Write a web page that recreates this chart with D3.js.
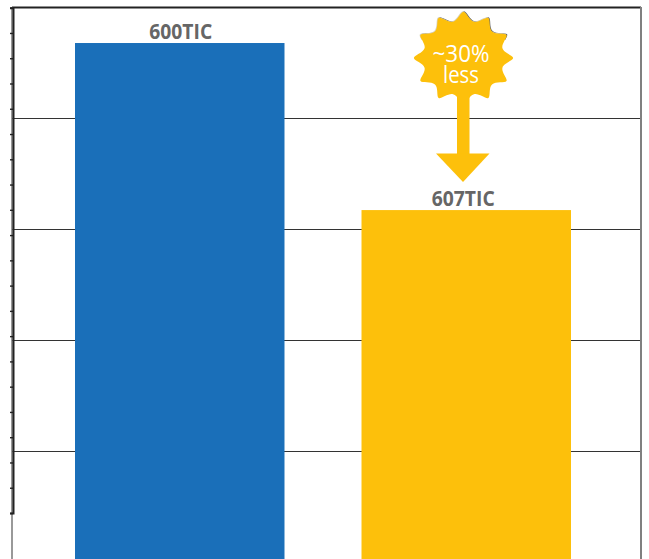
<!DOCTYPE html>
<html>
<head>
<meta charset="utf-8">
<script src="https://cdn.jsdelivr.net/npm/d3@7/dist/d3.min.js"></script>
<style>
	html, body { margin: 0; padding: 0; background: #fff; overflow: hidden; }
	svg { display: block; }
	.barlabel { font-family: "Open Sans", sans-serif; font-weight: bold; font-size: 21px; fill: #666; text-anchor: middle; }
	.badgetext { font-family: "Open Sans", sans-serif; fill: #fff; text-anchor: middle; }
</style>
</head>
<body>
<svg id="chart" width="649" height="559"></svg>
<script>
var categories = ['600TIC', '607TIC'];
var bar_values = [4.68, 3.175];
var bar_colors = ['#1a6fb9', '#fdc00b'];
var grid_values = [1, 2, 3, 4, 5];
var minor_ticks = d3.range(0, 21);
var badge_lines = ['~30%', 'less'];

var svg_elem = d3.select('#chart');

var x_scale = d3.scaleBand().domain(categories).range([75, 571]).paddingInner(0.2688);
var y_scale = d3.scaleLinear().domain([0, 5]).range([562.5, 7.5]);
var minor_scale = d3.scaleLinear().domain([0, 20]).range([513, 7.7]);

// gridlines
svg_elem.selectAll('.grid').data(grid_values).enter().append('line').attr('class', 'grid')
	.attr('x1', 12).attr('x2', 641)
	.attr('y1', d => y_scale(d)).attr('y2', d => y_scale(d))
	.attr('stroke', d => d == 5 ? '#222' : '#333').attr('stroke-width', d => d == 5 ? 1.8 : 1);

// frame, thin part of the left side runs off the bottom
svg_elem.append('line').attr('x1', 641).attr('x2', 641).attr('y1', 7).attr('y2', 559).attr('stroke', '#808080').attr('stroke-width', 2);
svg_elem.append('line').attr('x1', 12).attr('x2', 12).attr('y1', 7).attr('y2', 559).attr('stroke', '#777').attr('stroke-width', 1.5);

var left_axis = d3.axisLeft(minor_scale).tickValues(minor_ticks).tickSize(3).tickFormat('');
var axis_g = svg_elem.append('g').attr('transform', 'translate(13,0)').call(left_axis);
axis_g.select('.domain').attr('stroke', '#222').attr('stroke-width', 2);
axis_g.selectAll('.tick line').attr('stroke', '#222').attr('stroke-width', 1.4);

// bars
svg_elem.selectAll('.bar').data(categories).enter().append('rect').attr('class', 'bar')
	.attr('x', d => x_scale(d)).attr('width', x_scale.bandwidth())
	.attr('y', (d, i) => y_scale(bar_values[i]))
	.attr('height', (d, i) => y_scale(0) - y_scale(bar_values[i]))
	.attr('fill', (d, i) => bar_colors[i]);

svg_elem.selectAll('.barlabel').data(categories).enter().append('text').attr('class', 'barlabel')
	.attr('x', (d, i) => x_scale(d) + x_scale.bandwidth()/2 + (i == 0 ? 1 : -3))
	.attr('y', (d, i) => y_scale(bar_values[i]) - 4.5)
	.attr('textLength', 63).attr('lengthAdjust', 'spacingAndGlyphs')
	.text(d => d);

// badge with arrow
var badge_x = 463.5, badge_y = 58, n_points = 12;
var star_pts = d3.range(n_points*2).map(function(i)  {
	var ang = i*Math.PI/n_points - Math.PI/2;
	var r = i%2 == 0 ? 59 : 32;
	return [badge_x + r*Math.cos(ang), badge_y + r*0.93*Math.sin(ang)];
});
var star_path = d3.line().curve(d3.curveBasisClosed)(star_pts);
// scuffed upper edge of the badge, only the top part shows it
svg_elem.append('clipPath').attr('id', 'topedge').append('rect').attr('x', 410).attr('y', 8).attr('width', 110).attr('height', 32);
var scuff_g = svg_elem.append('g').attr('clip-path', 'url(#topedge)');
scuff_g.append('path').attr('d', star_path).attr('fill', '#666').attr('transform', 'translate(0.6,-0.6)');
scuff_g.append('path').attr('d', star_path).attr('fill', '#d8d2bc').attr('transform', 'translate(-0.7,-0.5)');
svg_elem.append('path').attr('d', star_path).attr('fill', bar_colors[1]);
svg_elem.append('rect').attr('x', 457).attr('y', 95).attr('width', 12.5).attr('height', 60).attr('fill', bar_colors[1]);
svg_elem.append('path').attr('d', d3.line()([[436, 153.5], [489.5, 153.5], [463, 182]])).attr('fill', bar_colors[1]);

var badge_widths = [57, 36];
svg_elem.selectAll('.badgetext').data(badge_lines).enter().append('text').attr('class', 'badgetext')
	.attr('x', 461).attr('y', (d, i) => 61.5 + i*21)
	.attr('font-size', (d, i) => i == 0 ? 24 : 23)
	.attr('textLength', (d, i) => badge_widths[i]).attr('lengthAdjust', 'spacingAndGlyphs')
	.text(d => d);
</script>
</body>
</html>
